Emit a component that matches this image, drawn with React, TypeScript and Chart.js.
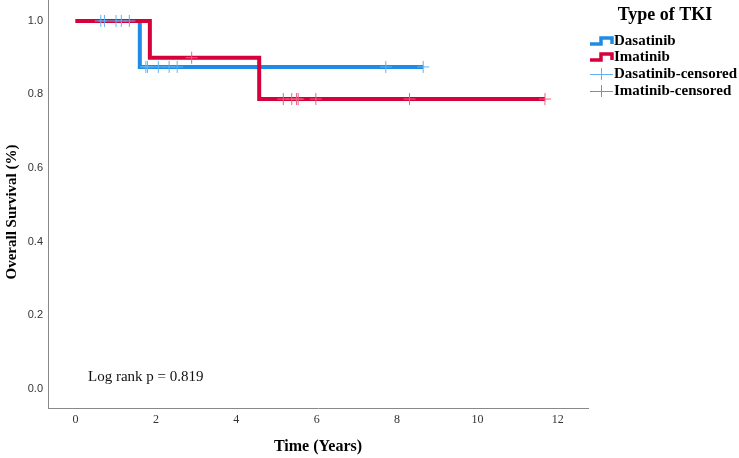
import React, { useEffect, useRef } from "react";
import { Chart, registerables } from "chart.js";

Chart.register(...registerables);

// Kaplan–Meier step data (time in years, survival proportion)
const dasatinibTimes = [0, 1.6, 8.65];
const dasatinibSurv = [1, 0.875, 0.875];
const imatinibTimes = [0, 1.85, 4.57, 11.68];
const imatinibSurv = [1, 0.9, 0.7875, 0.7875];

// censored observation times
const dasatinibCensored = [0.63, 0.72, 1.01, 1.14, 1.34, 1.75, 1.79, 2.06, 2.33, 2.53, 7.72, 8.65];
const imatinibCensored = [2.89, 5.17, 5.38, 5.5, 5.54, 5.98, 8.31, 11.68];

const xTicks = [0, 2, 4, 6, 8, 10, 12];
const yTicks = [0, 0.2, 0.4, 0.6, 0.8, 1.0];

const seriesNames = ["Dasatinib", "Imatinib", "Dasatinib-censored", "Imatinib-censored"];
const legendTitle = "Type of TKI";
const xTitle = "Time (Years)";
const yTitle = "Overall Survival (%)";
const noteText = "Log rank p = 0.819";

const BLUE = "rgb(30,140,228)";
const RED = "rgb(214,0,58)";
const BLUE_C = "rgb(95,178,242)";
const RED_C = "rgb(236,95,130)";

function survAt(times: number[], surv: number[], t: number) {
  let s = surv[0];
  for (let i = 0; i < times.length; i++) {
    if (times[i] <= t) s = surv[i];
  }
  return s;
}

const overlay = {
  id: "overlay",
  afterDraw(chart: any) {
    const ctx = chart.ctx as CanvasRenderingContext2D;
    const area = chart.chartArea;
    ctx.save();
    ctx.fillStyle = "#000";
    // x title
    ctx.font = "bold 16px 'Liberation Serif', 'Times New Roman', serif";
    ctx.textAlign = "center";
    ctx.textBaseline = "middle";
    ctx.fillText(xTitle, (area.left + area.right) / 2, 447);
    // y title
    ctx.save();
    ctx.translate(12, (area.top + area.bottom) / 2 + 8);
    ctx.rotate(-Math.PI / 2);
    ctx.font = "bold 15px 'Liberation Serif', 'Times New Roman', serif";
    ctx.fillText(yTitle, 0, 0);
    ctx.restore();
    // note
    ctx.font = "15px 'Liberation Serif', 'Times New Roman', serif";
    ctx.textAlign = "left";
    ctx.fillStyle = "#111";
    ctx.fillText(noteText, 88, 377);
    // legend title
    ctx.fillStyle = "#000";
    ctx.font = "bold 18px 'Liberation Serif', 'Times New Roman', serif";
    ctx.textAlign = "center";
    ctx.fillText(legendTitle, 665, 15);
    // legend items
    const rows = [41, 57, 74, 91];
    const colors = [BLUE, RED, BLUE_C, RED_C];
    ctx.font = "bold 15px 'Liberation Serif', 'Times New Roman', serif";
    ctx.textAlign = "left";
    rows.forEach((y, i) => {
      ctx.strokeStyle = colors[i];
      if (i < 2) {
        ctx.lineWidth = 3.5;
        ctx.beginPath();
        ctx.moveTo(590, y + 3);
        ctx.lineTo(601, y + 3);
        ctx.lineTo(601, y - 3);
        ctx.lineTo(612, y - 3);
        ctx.lineTo(612, y + 3);
        ctx.stroke();
      } else {
        ctx.lineWidth = 1;
        ctx.beginPath();
        ctx.moveTo(590, y + 0.5);
        ctx.lineTo(613, y + 0.5);
        ctx.moveTo(601.5, y - 6);
        ctx.lineTo(601.5, y + 6);
        ctx.stroke();
      }
      ctx.fillStyle = "#000";
      ctx.fillText(seriesNames[i], 614, y);
    });
    ctx.restore();
  },
};

export default function App() {
  const ref = useRef<HTMLCanvasElement | null>(null);
  useEffect(() => {
    if (!ref.current) return;
    const blueLine = dasatinibTimes.map((t, i) => ({ x: t, y: dasatinibSurv[i] }));
    const redLine = imatinibTimes.map((t, i) => ({ x: t, y: imatinibSurv[i] }));
    const blueCens = dasatinibCensored.map((t) => ({ x: t, y: survAt(dasatinibTimes, dasatinibSurv, t) }));
    const redCens = imatinibCensored.map((t) => ({ x: t, y: survAt(imatinibTimes, imatinibSurv, t) }));
    const chart = new Chart(ref.current, {
      type: "scatter",
      data: {
        datasets: [
          {
            label: seriesNames[2],
            data: blueCens,
            showLine: false,
            pointStyle: "cross",
            pointRadius: 6,
            borderColor: BLUE_C,
            backgroundColor: BLUE_C,
            borderWidth: 1,
          },
          {
            label: seriesNames[3],
            data: redCens,
            showLine: false,
            pointStyle: "cross",
            pointRadius: 6,
            borderColor: RED_C,
            backgroundColor: RED_C,
            borderWidth: 1,
          },
          {
            label: seriesNames[1],
            data: redLine,
            showLine: true,
            stepped: "before",
            pointRadius: 0,
            borderColor: RED,
            borderWidth: 4,
            fill: false,
          },
          {
            label: seriesNames[0],
            data: blueLine,
            showLine: true,
            stepped: "before",
            pointRadius: 0,
            borderColor: BLUE,
            borderWidth: 4,
            fill: false,
          },
        ] as any,
      },
      options: {
        responsive: false,
        animation: false,
        layout: { autoPadding: false, padding: { left: 0, top: 0, right: 151, bottom: 0 } },
        plugins: { legend: { display: false }, tooltip: { enabled: false } },
        scales: {
          x: {
            type: "linear",
            min: -0.684,
            max: 12.75,
            afterBuildTicks: (s: any) => {
              s.ticks = xTicks.map((v) => ({ value: v }));
            },
            afterFit: (s: any) => {
              s.height = 50;
              s.paddingLeft = 0;
              s.paddingRight = 0;
            },
            grid: { display: true, drawOnChartArea: false, drawTicks: false },
            border: { display: true, color: "#888", width: 1 },
            ticks: {
              padding: 5,
              maxRotation: 0,
              autoSkip: false,
              color: "#333",
              font: { family: "'Liberation Serif', serif", size: 12 },
              callback: (v: any) => String(v),
            },
          },
          y: {
            type: "linear",
            min: -0.053,
            max: 1.057,
            afterBuildTicks: (s: any) => {
              s.ticks = yTicks.map((v) => ({ value: v }));
            },
            afterFit: (s: any) => {
              s.width = 48;
              s.paddingTop = 0;
              s.paddingBottom = 0;
            },
            grid: { display: true, drawOnChartArea: false, drawTicks: false },
            border: { display: true, color: "#888", width: 1 },
            ticks: {
              padding: 5,
              autoSkip: false,
              color: "#333",
              font: { family: "'Liberation Sans', Arial, sans-serif", size: 11 },
              callback: (v: any) => Number(v).toFixed(1),
            },
          },
        },
      },
      plugins: [overlay],
    });
    return () => chart.destroy();
  }, []);
  return (
    <div style={{ position: "fixed", left: 0, top: 0, width: 739, height: 458, background: "#fff" }}>
      <canvas ref={ref} width={739} height={458} />
    </div>
  );
}
